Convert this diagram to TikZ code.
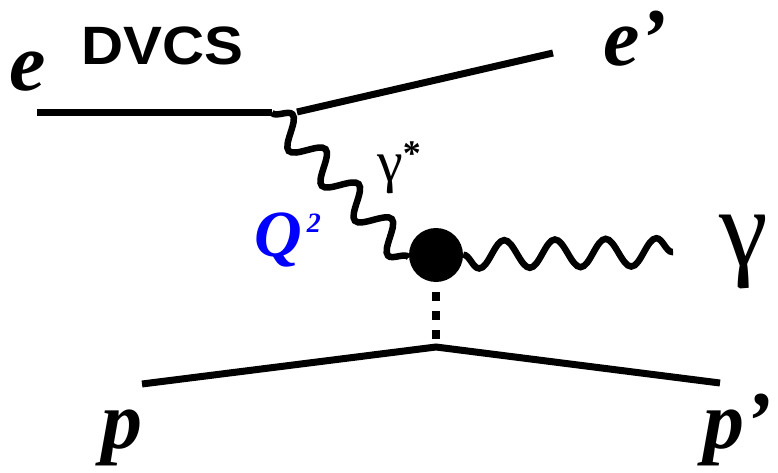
\documentclass[tikz,border=0pt]{standalone}
\usepackage{fontspec}
\setmainfont{Liberation Serif}
\newfontfamily\dvcsfont{Liberation Sans}
\usetikzlibrary{decorations.pathmorphing}

\begin{document}
\begin{tikzpicture}[
    x=1pt, y=-1pt,
    fermion/.style={line width=7pt},
    photon/.style={line width=6.5pt, decorate, decoration={snake, amplitude=14pt, segment length=#1}},
    photon/.default=50pt,
    pomeron/.style={line width=7.5pt, dash pattern=on 9pt off 10pt, dash phase=9pt},
    blob/.style={circle, fill=black, minimum size=54pt, inner sep=0pt},
    lbl/.style={inner sep=0pt, anchor=base, font=\bfseries\itshape\fontsize{82}{82}\selectfont}
]
    \useasboundingbox (0,0) rectangle (778,473);

    \node[blob] (blob) at (436,255) {};
    \coordinate (ein) at (37,113);
    \coordinate (v1) at (272,113);
    \coordinate (v1out) at (297,112);
    \coordinate (eout) at (553,53);
    \coordinate (pin) at (142,384);
    \coordinate (v2) at (436,347);
    \coordinate (pout) at (720,383);
    \coordinate (gend) at (673,252);

    \draw[fermion] (ein) -- (v1);
    \draw[fermion] (v1out) -- (eout);
    \draw[fermion] (pin) -- (v2) -- (pout);
    \draw[photon=48.1pt] (v1) -- (blob.185);
    \draw[photon=50.7pt, decoration={mirror}] (blob) -- (gend);
    \draw[pomeron] (blob.south) -- (v2);

    \node[lbl] (e) at (28,91) {e};
    \node[lbl] (eprime) at (635,66) {e’};
    \node[lbl] (p) at (122,448) {p};
    \node[lbl] (pprime) at (738,448) {p’};
    \node[inner sep=0pt, anchor=base west, xscale=1.08, font=\dvcsfont\bfseries\fontsize{54}{54}\selectfont] (dvcs) at (81,65) {DVCS};
    \node[inner sep=0pt, anchor=base, font=\fontsize{110}{110}\selectfont] (gamma) at (744,265) {γ};
    \node[inner sep=0pt, anchor=base west, font=\fontsize{58}{58}\selectfont] (gstar) at (377,181) {γ\kern0pt\raisebox{15pt}{\bfseries\fontsize{36}{36}\selectfont *}};
    \node[inner sep=0pt, anchor=base west, text=blue, font=\bfseries\itshape\fontsize{66}{66}\selectfont] (qsq) at (254,256) {Q\kern5pt\raisebox{24pt}{\fontsize{28}{28}\selectfont 2}};
\end{tikzpicture}
\end{document}
